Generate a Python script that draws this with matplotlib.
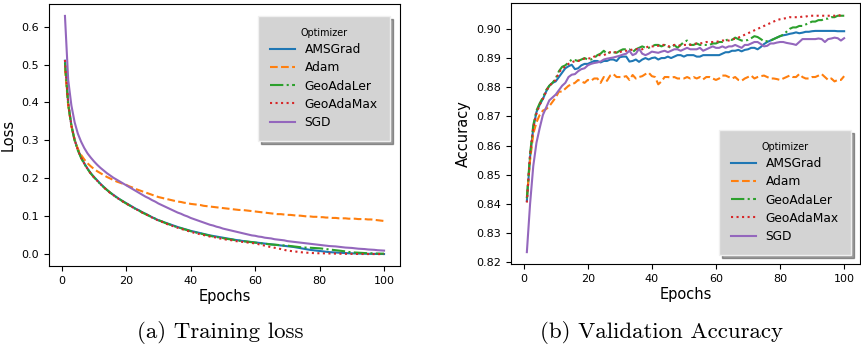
import numpy as np
import matplotlib
matplotlib.use("Agg")
import matplotlib.pyplot as plt

epochs = np.arange(1, 101)
optimizers = ["AMSGrad", "Adam", "GeoAdaLer", "GeoAdaMax", "SGD"]
colors = ["#1f77b4", "#ff7f0e", "#2ca02c", "#d62728", "#9467bd"]
styles = ["-", "--", "-.", ":", "-"]

loss_amsgrad = [
    0.510, 0.400, 0.340, 0.302, 0.276, 0.256, 0.240, 0.226, 0.214, 0.204,
    0.195, 0.186, 0.178, 0.170, 0.163, 0.157, 0.151, 0.145, 0.140, 0.135,
    0.130, 0.125, 0.120, 0.116, 0.111, 0.107, 0.1025, 0.098, 0.094, 0.090,
    0.087, 0.084, 0.081, 0.078, 0.075, 0.072, 0.0695, 0.067, 0.0645, 0.062,
    0.060, 0.058, 0.056, 0.054, 0.052, 0.050, 0.0485, 0.047, 0.0455, 0.044,
    0.0425, 0.041, 0.0395, 0.038, 0.037, 0.0355, 0.0345, 0.0335, 0.0325, 0.0315,
    0.0305, 0.0295, 0.0285, 0.0275, 0.0265, 0.0255, 0.0245, 0.0235, 0.0225, 0.0215,
    0.0205, 0.0195, 0.018, 0.0165, 0.015, 0.0135, 0.012, 0.011, 0.010, 0.009,
    0.008, 0.007, 0.006, 0.0055, 0.005, 0.0045, 0.004, 0.0035, 0.003, 0.0028,
    0.0025, 0.0022, 0.002, 0.0018, 0.0016, 0.0015, 0.0013, 0.0012, 0.0011, 0.001]
loss_adam = [
    0.490, 0.392, 0.338, 0.302, 0.278, 0.262, 0.250, 0.240, 0.232, 0.225,
    0.219, 0.214, 0.209, 0.204, 0.200, 0.196, 0.192, 0.189, 0.186, 0.183,
    0.179, 0.176, 0.172, 0.169, 0.166, 0.163, 0.160, 0.157, 0.154, 0.151,
    0.149, 0.147, 0.145, 0.143, 0.141, 0.139, 0.138, 0.136, 0.135, 0.133,
    0.132, 0.131, 0.130, 0.128, 0.127, 0.126, 0.125, 0.124, 0.123, 0.122,
    0.121, 0.120, 0.119, 0.118, 0.117, 0.117, 0.116, 0.115, 0.114, 0.113,
    0.112, 0.111, 0.110, 0.109, 0.108, 0.107, 0.106, 0.106, 0.105, 0.104,
    0.104, 0.103, 0.102, 0.102, 0.101, 0.100, 0.100, 0.099, 0.099, 0.098,
    0.098, 0.097, 0.097, 0.096, 0.096, 0.095, 0.095, 0.095, 0.094, 0.094,
    0.094, 0.093, 0.093, 0.093, 0.092, 0.092, 0.091, 0.090, 0.089, 0.088]
loss_geoadaler = [
    0.505, 0.395, 0.338, 0.300, 0.274, 0.254, 0.238, 0.225, 0.213, 0.203,
    0.194, 0.185, 0.177, 0.170, 0.163, 0.156, 0.150, 0.145, 0.139, 0.134,
    0.129, 0.124, 0.119, 0.115, 0.110, 0.106, 0.102, 0.098, 0.094, 0.090,
    0.087, 0.083, 0.080, 0.077, 0.074, 0.071, 0.069, 0.066, 0.064, 0.061,
    0.059, 0.057, 0.055, 0.053, 0.051, 0.049, 0.047, 0.046, 0.044, 0.043,
    0.041, 0.040, 0.039, 0.037, 0.036, 0.035, 0.034, 0.033, 0.032, 0.031,
    0.030, 0.029, 0.028, 0.027, 0.026, 0.0255, 0.025, 0.024, 0.0235, 0.023,
    0.022, 0.021, 0.020, 0.019, 0.018, 0.018, 0.0175, 0.017, 0.0165, 0.016,
    0.015, 0.014, 0.013, 0.012, 0.011, 0.010, 0.009, 0.008, 0.0065, 0.0055,
    0.005, 0.0045, 0.004, 0.0035, 0.003, 0.0028, 0.0025, 0.0023, 0.002, 0.002]
loss_geoadamax = [
    0.512, 0.398, 0.339, 0.301, 0.275, 0.255, 0.239, 0.225, 0.213, 0.203,
    0.194, 0.185, 0.177, 0.169, 0.162, 0.156, 0.150, 0.144, 0.139, 0.134,
    0.129, 0.124, 0.119, 0.115, 0.110, 0.106, 0.102, 0.097, 0.093, 0.089,
    0.086, 0.082, 0.079, 0.076, 0.073, 0.070, 0.067, 0.065, 0.062, 0.060,
    0.057, 0.055, 0.053, 0.051, 0.049, 0.047, 0.046, 0.044, 0.042, 0.041,
    0.039, 0.038, 0.037, 0.035, 0.034, 0.033, 0.032, 0.031, 0.030, 0.029,
    0.027, 0.025, 0.023, 0.021, 0.019, 0.0175, 0.016, 0.014, 0.012, 0.010,
    0.009, 0.008, 0.007, 0.006, 0.005, 0.0045, 0.004, 0.0035, 0.003, 0.003,
    0.0028, 0.0026, 0.0024, 0.0022, 0.002, 0.0018, 0.0016, 0.0015, 0.0014, 0.0013,
    0.0012, 0.0011, 0.001, 0.001, 0.0009, 0.0009, 0.0009, 0.0008, 0.0008, 0.0008]
loss_sgd = [
    0.628, 0.460, 0.392, 0.348, 0.318, 0.297, 0.280, 0.266, 0.255, 0.245,
    0.236, 0.228, 0.221, 0.214, 0.208, 0.202, 0.197, 0.192, 0.187, 0.182,
    0.177, 0.172, 0.167, 0.162, 0.157, 0.152, 0.148, 0.143, 0.139, 0.134,
    0.130, 0.126, 0.122, 0.118, 0.114, 0.110, 0.107, 0.103, 0.100, 0.096,
    0.093, 0.090, 0.087, 0.084, 0.081, 0.078, 0.076, 0.073, 0.071, 0.068,
    0.066, 0.064, 0.062, 0.060, 0.058, 0.056, 0.054, 0.052, 0.050, 0.049,
    0.047, 0.046, 0.044, 0.043, 0.042, 0.040, 0.039, 0.038, 0.037, 0.035,
    0.034, 0.033, 0.032, 0.031, 0.030, 0.029, 0.028, 0.027, 0.026, 0.025,
    0.024, 0.023, 0.022, 0.0215, 0.021, 0.020, 0.019, 0.018, 0.0175, 0.017,
    0.016, 0.015, 0.0145, 0.014, 0.013, 0.0125, 0.012, 0.011, 0.0105, 0.010]

acc_amsgrad = [
    0.841, 0.856, 0.866, 0.8715, 0.874, 0.876, 0.8785, 0.8805, 0.8815, 0.882,
    0.8835, 0.885, 0.8865, 0.8872, 0.8877, 0.8862, 0.8865, 0.8875, 0.888, 0.888,
    0.8885, 0.889, 0.889, 0.8885, 0.889, 0.889, 0.8895, 0.8895, 0.889, 0.8903,
    0.8905, 0.8905, 0.8888, 0.889, 0.8895, 0.8887, 0.8895, 0.890, 0.8895, 0.890,
    0.8902, 0.8895, 0.890, 0.890, 0.8905, 0.890, 0.8905, 0.891, 0.891, 0.8905,
    0.891, 0.891, 0.891, 0.8905, 0.8905, 0.891, 0.891, 0.891, 0.891, 0.891,
    0.891, 0.8915, 0.892, 0.892, 0.8925, 0.8925, 0.8928, 0.8923, 0.8928, 0.893,
    0.8935, 0.8935, 0.893, 0.8938, 0.8948, 0.8955, 0.896, 0.8965, 0.897, 0.8975,
    0.8978, 0.898, 0.8983, 0.8985, 0.8988, 0.8985, 0.8987, 0.899, 0.899, 0.8992,
    0.8993, 0.8993, 0.8993, 0.8993, 0.8993, 0.8993, 0.8993, 0.8992, 0.8992, 0.8992]
acc_adam = [
    0.842, 0.855, 0.864, 0.868, 0.8705, 0.872, 0.8725, 0.8735, 0.875, 0.8765,
    0.8785, 0.8785, 0.8795, 0.8805, 0.881, 0.8815, 0.8825, 0.882, 0.8815, 0.8825,
    0.8822, 0.883, 0.883, 0.8815, 0.8835, 0.8822, 0.884, 0.8845, 0.8835, 0.8835,
    0.8835, 0.8838, 0.8825, 0.8842, 0.883, 0.8835, 0.8838, 0.8845, 0.885, 0.8838,
    0.8835, 0.881, 0.882, 0.8835, 0.8835, 0.8833, 0.8835, 0.883, 0.883, 0.883,
    0.8835, 0.883, 0.8835, 0.883, 0.8835, 0.8827, 0.8835, 0.8835, 0.883, 0.8825,
    0.883, 0.884, 0.884, 0.8835, 0.883, 0.8835, 0.8825, 0.8822, 0.883, 0.8835,
    0.884, 0.883, 0.8835, 0.8838, 0.884, 0.8835, 0.883, 0.883, 0.8828, 0.8825,
    0.883, 0.8835, 0.884, 0.8835, 0.8835, 0.8845, 0.8835, 0.883, 0.883, 0.8835,
    0.8835, 0.884, 0.8845, 0.8835, 0.8825, 0.883, 0.882, 0.8825, 0.8825, 0.8838]
acc_geoadaler = [
    0.842, 0.857, 0.867, 0.872, 0.8745, 0.8765, 0.879, 0.8805, 0.8815, 0.883,
    0.8855, 0.887, 0.8875, 0.8885, 0.8895, 0.8893, 0.889, 0.8895, 0.890, 0.8895,
    0.8895, 0.890, 0.891, 0.8915, 0.8925, 0.8915, 0.892, 0.892, 0.8918, 0.8925,
    0.893, 0.893, 0.893, 0.892, 0.893, 0.8935, 0.894, 0.8935, 0.8935, 0.894,
    0.8945, 0.8945, 0.894, 0.8945, 0.894, 0.8935, 0.8945, 0.8935, 0.8945, 0.8955,
    0.896, 0.8945, 0.8945, 0.895, 0.8945, 0.8945, 0.8945, 0.8945, 0.895, 0.895,
    0.8955, 0.8955, 0.896, 0.8965, 0.8962, 0.897, 0.8965, 0.896, 0.896, 0.8962,
    0.8968, 0.8975, 0.8972, 0.8965, 0.8957, 0.8958, 0.896, 0.8965, 0.897, 0.8975,
    0.898, 0.899, 0.900, 0.9005, 0.9005, 0.901, 0.901, 0.9015, 0.902, 0.9025,
    0.9025, 0.903, 0.903, 0.9035, 0.9035, 0.904, 0.904, 0.9045, 0.9045, 0.9045]
acc_geoadamax = [
    0.8405, 0.857, 0.866, 0.871, 0.874, 0.876, 0.8785, 0.8805, 0.8815, 0.8825,
    0.885, 0.8865, 0.887, 0.888, 0.8885, 0.889, 0.889, 0.8895, 0.8898, 0.890,
    0.8898, 0.8905, 0.891, 0.891, 0.891, 0.8915, 0.892, 0.892, 0.892, 0.892,
    0.8925, 0.8925, 0.8925, 0.893, 0.893, 0.8932, 0.893, 0.8935, 0.894, 0.894,
    0.894, 0.8942, 0.8945, 0.8945, 0.894, 0.8942, 0.8945, 0.8945, 0.8942, 0.8945,
    0.8945, 0.8945, 0.8948, 0.895, 0.895, 0.8952, 0.8955, 0.8955, 0.8955, 0.8955,
    0.8958, 0.896, 0.896, 0.896, 0.8963, 0.8967, 0.897, 0.8975, 0.898, 0.8985,
    0.899, 0.8995, 0.900, 0.9005, 0.901, 0.9015, 0.902, 0.9025, 0.903, 0.9033,
    0.9035, 0.9037, 0.904, 0.904, 0.904, 0.904, 0.9042, 0.9042, 0.9045, 0.9045,
    0.9045, 0.9045, 0.9045, 0.9045, 0.9045, 0.9045, 0.9045, 0.9048, 0.9045, 0.9045]
acc_sgd = [
    0.8235, 0.840, 0.853, 0.861, 0.866, 0.8705, 0.873, 0.8755, 0.8765, 0.8775,
    0.879, 0.8805, 0.8815, 0.8835, 0.8843, 0.8845, 0.8855, 0.8862, 0.8865, 0.8875,
    0.888, 0.8883, 0.8885, 0.8888, 0.8895, 0.8898, 0.890, 0.8902, 0.8905, 0.8908,
    0.8912, 0.8915, 0.8925, 0.891, 0.8915, 0.8932, 0.8915, 0.891, 0.8915, 0.8922,
    0.892, 0.8918, 0.8922, 0.8925, 0.892, 0.8925, 0.893, 0.893, 0.8925, 0.893,
    0.8935, 0.893, 0.893, 0.893, 0.8935, 0.8925, 0.893, 0.8935, 0.894, 0.8935,
    0.8935, 0.894, 0.8935, 0.894, 0.894, 0.8945, 0.894, 0.8935, 0.8945, 0.8945,
    0.895, 0.8955, 0.8955, 0.8948, 0.894, 0.8942, 0.895, 0.895, 0.8953, 0.8955,
    0.8955, 0.8952, 0.895, 0.8948, 0.8945, 0.8955, 0.8965, 0.8965, 0.8965, 0.8965,
    0.8965, 0.8967, 0.8965, 0.8955, 0.8965, 0.8967, 0.897, 0.8968, 0.896, 0.8968]

loss_series = [loss_amsgrad, loss_adam, loss_geoadaler, loss_geoadamax, loss_sgd]
acc_series = [acc_amsgrad, acc_adam, acc_geoadaler, acc_geoadamax, acc_sgd]

plt.rcParams["font.family"] = ["DejaVu Sans"]
fig = plt.figure(figsize=(8.61, 3.48), dpi=100)
ax1 = fig.add_axes([49/861, 1-266/348, 351/861, 262/348])
ax2 = fig.add_axes([511/861, 1-264/348, 349/861, 261/348])

for ax, series in ((ax1, loss_series), (ax2, acc_series)):
    for name, vals, c, ls in zip(optimizers, series, colors, styles):
        ax.plot(epochs, vals, color=c, linestyle=ls, linewidth=1.5, label=name)
    ax.tick_params(labelsize=8)
    ax.set_xlabel("Epochs", fontsize=10.5, labelpad=2)
    ax.set_xticks([0, 20, 40, 60, 80, 100])

ax1.set_ylabel("Loss", fontsize=10.5, labelpad=4)
ax2.set_ylabel("Accuracy", fontsize=10.5, labelpad=4)
ax1.set_yticks([0.0, 0.1, 0.2, 0.3, 0.4, 0.5, 0.6])
ax2.set_yticks([0.82, 0.83, 0.84, 0.85, 0.86, 0.87, 0.88, 0.89, 0.90])
ax2.set_yticklabels(["0.82", "0.83", "0.84", "0.85", "0.86", "0.87", "0.88", "0.89", "0.90"])

leg_kw = dict(title="Optimizer", fontsize=8.8, title_fontsize=6.9, shadow=True,
              facecolor="#d3d3d3", edgecolor="#f0f0f0", framealpha=1.0,
              fancybox=False, borderaxespad=0.0, borderpad=1.0,
              labelspacing=0.42, handlelength=2.0)
ax1.legend(loc="upper right", bbox_to_anchor=(1 - 10/351, 1 - 12/262), **leg_kw)
ax2.legend(loc="lower right", bbox_to_anchor=(1 - 9/349, 9/261), **leg_kw)

fig.text(220/861, 1 - 333/348, "(a) Training loss", family="cmr10", fontsize=16.5,
         ha="center", va="center")
fig.text(662/861, 1 - 333/348, "(b) Validation Accuracy", family="cmr10", fontsize=16.5,
         ha="center", va="center")

fig.savefig("out.png", dpi=100)
